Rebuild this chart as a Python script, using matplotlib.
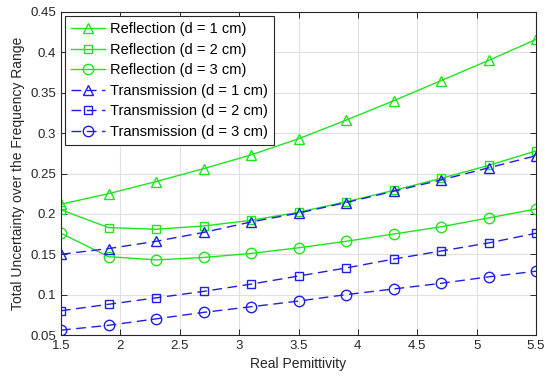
import matplotlib
matplotlib.use("Agg")
import matplotlib.pyplot as plt
import numpy as np

plt.rcParams['font.family'] = ['Liberation Sans', 'DejaVu Sans']

x = [1.5, 1.9, 2.3, 2.7, 3.1, 3.5, 3.9, 4.3, 4.7, 5.1, 5.5]
r1 = [0.212, 0.225, 0.240, 0.256, 0.273, 0.293, 0.316, 0.340, 0.365, 0.390, 0.416]
r2 = [0.205, 0.183, 0.181, 0.185, 0.192, 0.202, 0.215, 0.229, 0.244, 0.260, 0.278]
r3 = [0.176, 0.147, 0.143, 0.146, 0.151, 0.158, 0.166, 0.175, 0.184, 0.195, 0.206]
t1 = [0.150, 0.157, 0.166, 0.177, 0.190, 0.201, 0.214, 0.228, 0.242, 0.257, 0.272]
t2 = [0.080, 0.088, 0.096, 0.104, 0.113, 0.123, 0.133, 0.144, 0.154, 0.164, 0.176]
t3 = [0.056, 0.062, 0.070, 0.078, 0.085, 0.092, 0.100, 0.107, 0.114, 0.122, 0.129]

labels = ['Reflection (d = 1 cm)', 'Reflection (d = 2 cm)', 'Reflection (d = 3 cm)',
          'Transmission (d = 1 cm)', 'Transmission (d = 2 cm)', 'Transmission (d = 3 cm)']
xticks = [1.5, 2, 2.5, 3, 3.5, 4, 4.5, 5, 5.5]
xticklabels = ['1.5', '2', '2.5', '3', '3.5', '4', '4.5', '5', '5.5']
yticks = [0.05, 0.1, 0.15, 0.2, 0.25, 0.3, 0.35, 0.4, 0.45]
yticklabels = ['0.05', '0.1', '0.15', '0.2', '0.25', '0.3', '0.35', '0.4', '0.45']

green = '#1EE61E'
blue = '#1E1EE6'

fig = plt.figure(figsize=(5.5, 3.85), dpi=100)
ax = fig.add_axes([61/550, 1-335/385, (536-61)/550, (335-12)/385])

mk = dict(markerfacecolor='none', markersize=7.5, markeredgewidth=1.0)
mks = dict(markerfacecolor='none', markersize=6, markeredgewidth=1.0)
ax.plot(x, r1, '-', color=green, marker='^', lw=1.0, label=labels[0], **mk)
ax.plot(x, r2, '-', color=green, marker='s', lw=1.0, label=labels[1], **mks)
ax.plot(x, r3, '-', color=green, marker='o', lw=1.0, label=labels[2], **mk)
ax.plot(x, t1, '--', color=blue, marker='^', lw=1.0, dashes=(7, 4), label=labels[3], **mk)
ax.plot(x, t2, '--', color=blue, marker='s', lw=1.0, dashes=(7, 4), label=labels[4], **mks)
ax.plot(x, t3, '--', color=blue, marker='o', lw=1.0, dashes=(7, 4), label=labels[5], **mk)

ax.set_xlim(1.5, 5.5)
ax.set_ylim(0.05, 0.45)
ax.set_xticks(xticks)
ax.set_xticklabels(xticklabels)
ax.set_yticks(yticks)
ax.set_yticklabels(yticklabels)
ax.tick_params(direction='in', top=True, right=True, labelsize=9.5, length=4, width=0.7, colors='#262626')
ax.grid(True, color='#E0E0E0', linewidth=0.8)
ax.set_axisbelow(True)
for s in ax.spines.values():
    s.set_color('#262626')
    s.set_linewidth(0.8)

ax.set_xlabel('Real Pemittivity', fontsize=10, color='#262626')
ax.set_ylabel('Total Uncertainty over the Frequency Range', fontsize=10, color='#262626')

leg = ax.legend(loc='upper left', fontsize=10.5, frameon=True, fancybox=False,
                edgecolor='#262626', framealpha=1, borderaxespad=0.3,
                handlelength=2.3, labelspacing=0.45, borderpad=0.4, handletextpad=0.35)
leg.get_frame().set_linewidth(0.8)

fig.savefig('out.png', dpi=100)
